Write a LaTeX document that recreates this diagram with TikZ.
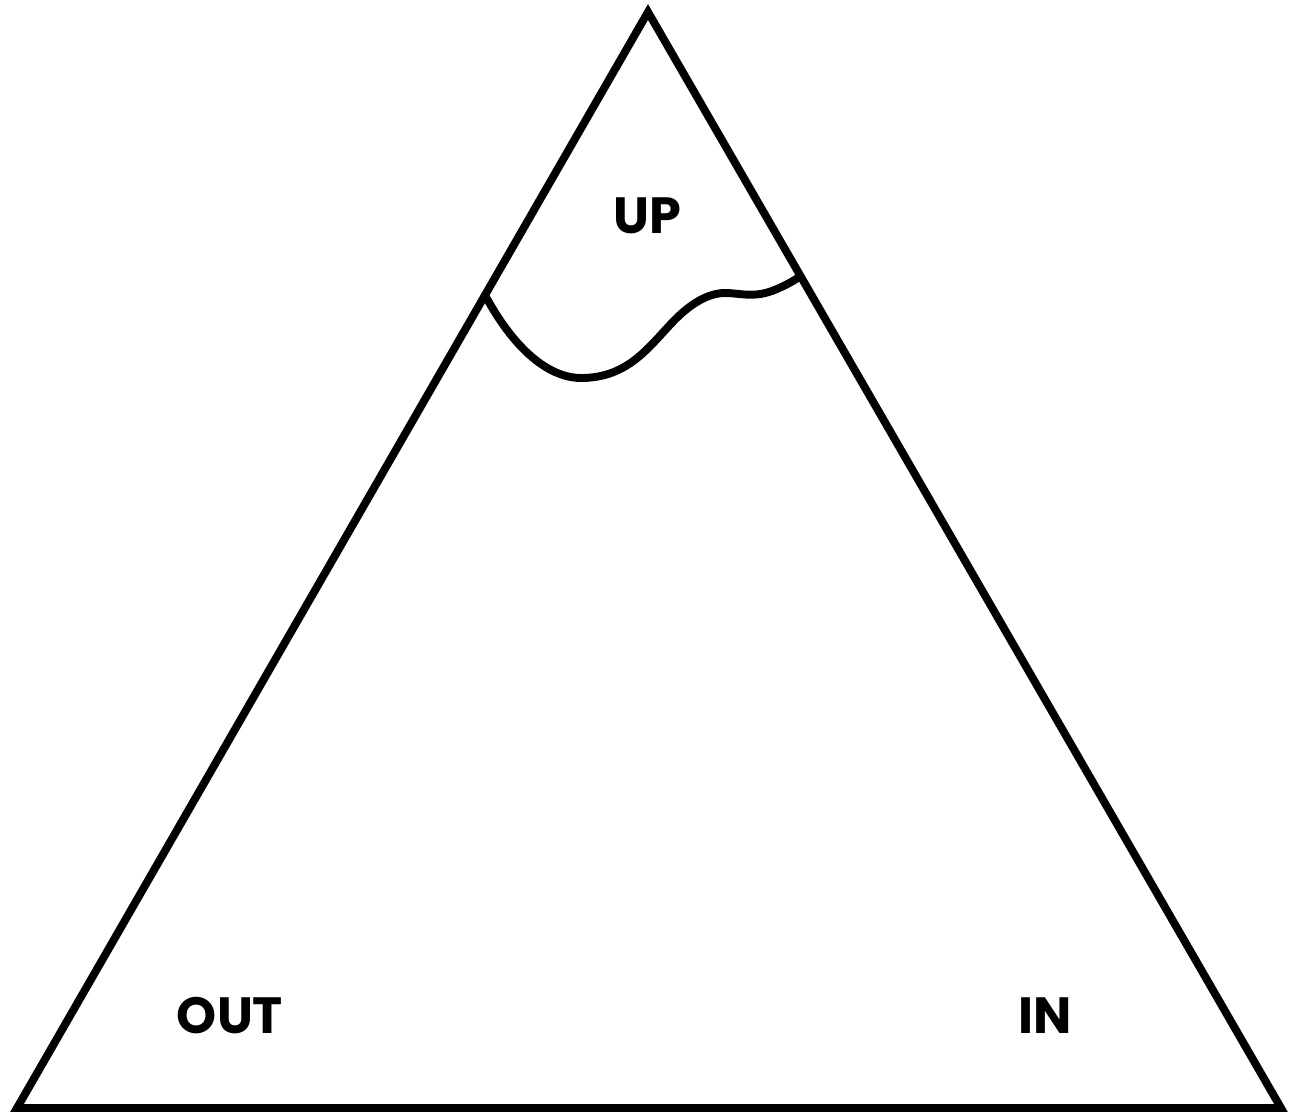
\documentclass[tikz,border=0pt]{standalone}
\usepackage{fontspec}
\setmainfont{Poppins}
\usepackage{tikz}

\tikzset{
  edge/.style={line width=4.5pt, line join=miter},
  lbl/.style={font=\fontsize{29}{30}\selectfont\bfseries, inner sep=0pt}
}

\begin{document}
\begin{tikzpicture}[x=0.02cm, y=-0.02cm]
            \useasboundingbox (0,0) rectangle (1295,1116);
            \coordinate (top) at (648,12);
            \coordinate (bl) at (17,1108);
            \coordinate (br) at (1281,1108);
            \draw[edge] (top) -- (br) -- (bl) -- cycle;
            % the wavy line across the top
            \coordinate (wl) at (485,295);
            \coordinate (wr) at (799,277);
            \draw[edge, line cap=round] (wl) .. controls (510,342) and (545,379) .. (583,378)
                .. controls (625,377) and (645,352) .. (668,327)
                .. controls (685,308) and (705,293) .. (725,293)
                .. controls (740,293) and (752,298) .. (772,291)
                .. controls (785,286) and (795,280) .. (wr);
            \node[lbl] (up) at (647,216) {UP};
            \node[lbl] (out) at (230,1016) {OUT};
            \node[lbl] (in) at (1045,1016) {IN};
        \end{tikzpicture}
\end{document}
